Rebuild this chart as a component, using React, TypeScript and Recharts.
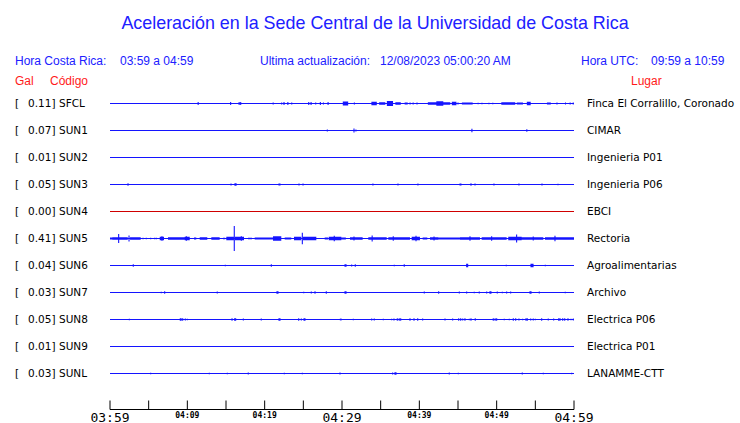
import { Area, ComposedChart, Line, XAxis, YAxis } from 'recharts';

// estaciones, de arriba hacia abajo
const CODES = ['SFCL', 'SUN1', 'SUN2', 'SUN3', 'SUN4', 'SUN5', 'SUN6', 'SUN7', 'SUN8', 'SUN9', 'SUNL'];
const GAL = ['0.11', '0.07', '0.01', '0.05', '0.00', '0.41', '0.04', '0.03', '0.05', '0.01', '0.03'];
const PLACES = [
  'Finca El Corralillo, Coronado',
  'CIMAR',
  'Ingenieria P01',
  'Ingenieria P06',
  'EBCI',
  'Rectoria',
  'Agroalimentarias',
  'Archivo',
  'Electrica P06',
  'Electrica P01',
  'LANAMME-CTT',
];
const OFFLINE = ['SUN4'];

// minutos desde 03:59
const TICK_MIN = [0, 5, 10, 15, 20, 25, 30, 35, 40, 45, 50, 55, 60];
const TICK_TEXT = ['03:59', '', '04:09', '', '04:19', '', '04:29', '', '04:39', '', '04:49', '', '04:59'];

// [minuto, amplitud] ; amplitud en cuentas (27 cuentas = separacion entre trazas)
const SFCL_SPIKES: [number, number][] = [
  [11.4, 1.5], [15.6, 1.5], [16.7, 1.5], [16.9, 1.5], [21.1, 1], [22.2, 1], [22.5, 1.5], [23.0, 1.5],
  [23.5, 1], [25.7, 1.5], [26.0, 1.5], [26.6, 1], [27.2, 1.5], [27.6, 1], [28.2, 1.5], [31.6, 1],
  [38.8, 1], [39.2, 1], [39.7, 1], [45.0, 1], [47.6, 0.7], [48.1, 0.7], [49.0, 0.7], [49.5, 0.7],
  [57.8, 1], [58.9, 1], [59.5, 1], [59.9, 1],
];
// [inicio, fin, amplitud]
const SFCL_BURSTS: [number, number, number][] = [
  [30.1, 30.8, 2], [33.8, 34.5, 1.7], [34.8, 35.6, 1.3], [35.8, 36.6, 2.5], [36.9, 37.6, 1.3],
  [38.1, 38.5, 1], [41.1, 42.2, 1.3], [42.2, 43.1, 2.3], [43.1, 44.0, 1.3], [44.2, 44.8, 1.7],
  [45.5, 46.9, 1], [50.6, 52.4, 1.3], [52.6, 53.4, 1], [53.9, 54.4, 1.7], [56.5, 57.0, 1],
];

const SUN1_SPIKES: [number, number][] = [[28.1, 1], [31.55, 2], [31.8, 1], [46.8, 1.7], [53.9, 1.3]];

const SUN3_SPIKES: [number, number][] = [
  [2.33, 1.3], [15.65, 1], [16.16, 1.3], [16.3, 1.3], [21.85, 1], [21.98, 1], [24.44, 1], [24.96, 1],
  [34.0, 1], [37.24, 1], [39.82, 1], [45.26, 1], [45.38, 1], [46.68, 1.3], [47.2, 1], [49.65, 1],
  [52.88, 1], [55.86, 1], [57.93, 0.7],
];

const SUN5_SPIKES: [number, number][] = [
  [1.12, 4.5], [2.46, 3], [4.27, 0.7], [4.69, 0.7], [5.26, 0.7], [5.78, 0.7], [5.99, 0.7], [6.72, 2.3],
  [9.87, 2.3], [16.07, 12.5], [16.98, 2.3], [24.87, 5.7], [29.0, 2.7], [31.55, 2], [33.9, 3],
  [36.63, 2.3], [39.57, 2.7], [41.9, 2], [46.55, 2.3], [49.35, 2.3], [52.58, 4], [54.73, 2], [57.54, 2.7],
];
const SUN5_BURSTS: [number, number, number][] = [
  [0.0, 0.3, 1], [0.3, 2.3, 1.3], [2.59, 3.97, 1.3], [6.43, 6.98, 1.7], [7.5, 9.66, 1.3],
  [9.66, 10.31, 1.7], [10.86, 11.16, 1], [11.6, 12.58, 1.3], [13.1, 14.18, 1.3], [14.61, 14.9, 0.7],
  [15.04, 16.03, 1.7], [16.13, 17.33, 1.7], [17.84, 18.36, 0.7], [18.71, 21.08, 1], [21.08, 22.15, 2.3],
  [22.59, 23.44, 1], [23.79, 24.74, 1.7], [24.96, 26.68, 1.7], [27.76, 28.19, 1], [28.28, 29.91, 1.7],
  [29.91, 30.5, 1], [31.03, 32.67, 1.3], [33.4, 35.78, 1.3], [35.99, 38.79, 1.3], [39.01, 40.08, 1.7],
  [40.43, 41.03, 1], [41.38, 42.45, 1.3], [42.45, 45.26, 1], [45.26, 47.84, 1.3], [48.06, 51.29, 1.3],
  [51.5, 53.23, 1.7], [53.23, 56.03, 1.3], [56.25, 60, 1.3],
];

const SUN6_SPIKES: [number, number][] = [
  [3.01, 1.3], [14.91, 0.7], [20.86, 1.3], [30.39, 1.3], [30.52, 1.3], [31.25, 1], [31.72, 1.3],
  [36.76, 0.7], [38.05, 1.3], [46.12, 1.7], [46.25, 1.7], [51.24, 0.7], [54.44, 1.7], [54.57, 1.7],
  [54.7, 1.7], [56.29, 0.7],
];

const SUN7_SPIKES: [number, number][] = [
  [6.63, 0.7], [7.07, 1.3], [13.87, 1], [21.59, 1.3], [21.72, 1.3], [25.05, 0.7], [26.03, 1],
  [26.51, 1.3], [27.97, 1.3], [30.39, 1.3], [30.52, 1.3], [40.64, 1], [42.5, 1.3], [45.17, 1],
  [46.12, 1], [47.1, 0.7], [47.75, 1], [48.71, 1], [49.13, 1.3], [49.26, 1.3], [50.08, 1],
  [50.73, 0.7], [51.29, 1], [51.81, 1], [54.31, 1.3], [54.44, 1.3], [55.51, 1], [58.87, 0.7],
];

const SUN8_SPIKES: [number, number][] = [
  [2.5, 0.7], [9.09, 1.3], [9.2, 1.3], [9.4, 1.3], [9.74, 1], [10.0, 0.7], [15.78, 1.3], [16.12, 1.3],
  [16.25, 1.3], [17.24, 1], [19.56, 1], [21.85, 1.3], [21.98, 1.3], [24.4, 1.3], [24.74, 1],
  [25.09, 1.3], [25.21, 1.3], [29.78, 0.7], [29.87, 1], [31.46, 0.7], [33.84, 1], [34.17, 1],
  [35.34, 0.7], [36.42, 0.7], [36.72, 1], [37.15, 1.3], [37.4, 1.3], [37.59, 1.3], [38.79, 1.3],
  [39.31, 1.3], [39.79, 1.3], [40.43, 1], [43.32, 1], [44.31, 1], [45.09, 1.3], [45.35, 1.3],
  [45.61, 1], [45.9, 1.3], [46.46, 0.7], [46.68, 1.3], [47.23, 1.3], [49.56, 1.3], [49.8, 1.3],
  [50.0, 1.3], [50.98, 0.7], [51.63, 0.7], [52.15, 1.3], [52.46, 1.3], [52.88, 1], [53.36, 0.7],
  [53.79, 1.3], [53.96, 1.3], [54.4, 1], [54.73, 1], [55.0, 0.7], [55.82, 1.3], [56.67, 1],
  [57.37, 1], [58.02, 1.3], [58.19, 1.3], [58.54, 1.3], [58.8, 1.3], [59.22, 1.3], [59.61, 0.7],
  [59.91, 1],
];

const SUNL_SPIKES: [number, number][] = [
  [5.26, 0.7], [12.84, 0.7], [15.17, 0.7], [17.88, 1], [22.54, 0.7], [24.87, 0.7], [29.74, 1],
  [36.55, 1], [36.85, 1.3], [36.98, 1.3], [43.87, 1], [45.04, 0.7], [53.31, 1], [56.03, 0.7], [59.7, 0.7],
];

const SPIKES: Record<string, [number, number][]> = {
  SFCL: SFCL_SPIKES,
  SUN1: SUN1_SPIKES,
  SUN3: SUN3_SPIKES,
  SUN5: SUN5_SPIKES,
  SUN6: SUN6_SPIKES,
  SUN7: SUN7_SPIKES,
  SUN8: SUN8_SPIKES,
  SUNL: SUNL_SPIKES,
};
const BURSTS: Record<string, [number, number, number][]> = {
  SFCL: SFCL_BURSTS,
  SUN5: SUN5_BURSTS,
};

const ROW_COUNTS = 27;
const BLUE = '#1414ff';
const TITLE_BLUE = '#2020ff';
const RED = '#ff1a1a';
const FONT = '"DejaVu Sans", sans-serif';
const ARIAL = '"Liberation Sans", Arial, sans-serif';

const baseOf = (i: number) => CODES.length - i;

function traceData(i: number) {
  const b = baseOf(i);
  const pts: { t: number; y: number }[] = [{ t: 0, y: b }];
  for (const [t, a] of SPIKES[CODES[i]] ?? []) {
    const d = a / ROW_COUNTS;
    pts.push({ t, y: b }, { t, y: b + d }, { t, y: b - d }, { t, y: b });
  }
  pts.push({ t: 60, y: b });
  return pts;
}

function burstData(i: number) {
  const b = baseOf(i);
  const pts: { t: number; r: [number, number] | null }[] = [];
  for (const [t0, t1, a] of BURSTS[CODES[i]] ?? []) {
    const d = a / ROW_COUNTS;
    pts.push({ t: t0, r: [b - d, b + d] }, { t: t1, r: [b - d, b + d] }, { t: t1 + 0.001, r: null });
  }
  return pts;
}

function TimeTick({ x, y, payload }: any) {
  const i = TICK_MIN.indexOf(payload.value);
  const label = TICK_TEXT[i];
  const big = i % 6 === 0;
  return (
    <g>
      <line x1={x} x2={x} y1={y - 9} y2={y} stroke="#000" strokeWidth={1} />
      {label && (
        <text
          x={x}
          y={big ? y + 12 : y + 8.5}
          textAnchor="middle"
          fontFamily={'"DejaVu Sans Mono", monospace'}
          fontSize={big ? 13 : 8}
          fontWeight={big ? 'normal' : 'bold'}
          fill="#000"
        >
          {label}
        </text>
      )}
    </g>
  );
}

function StationTick({ x, y, payload }: any) {
  const i = CODES.length - payload.value;
  if (i < 0 || i >= CODES.length) return null;
  return (
    <g fontFamily={FONT} fontSize={10.5} fill="#000">
      <text x={x - 95} y={y + 3.5}>[</text>
      <text x={x - 82} y={y + 3.5}>{GAL[i]}]</text>
      <text x={x - 51} y={y + 3.5}>{CODES[i]}</text>
      <text x={x + 477} y={y + 3.5}>{PLACES[i]}</text>
    </g>
  );
}

export default function App() {
  return (
    <div style={{ position: 'fixed', left: 0, top: 0, width: 740, height: 423, background: '#fff' }}>
      <svg width={740} height={423} style={{ position: 'absolute', left: 0, top: 0 }}>
        <text x={375} y={29} textAnchor="middle" fontFamily={ARIAL} fontSize={17.9} fill={TITLE_BLUE}>
          Aceleración en la Sede Central de la Universidad de Costa Rica
        </text>
        <g fontFamily={ARIAL} fontSize={12} fill={TITLE_BLUE}>
          <text x={15} y={65}>Hora Costa Rica:</text>
          <text x={120} y={65}>03:59 a 04:59</text>
          <text x={260} y={65}>Ultima actualización:</text>
          <text x={380} y={65}>12/08/2023 05:00:20 AM</text>
          <text x={581} y={65}>Hora UTC:</text>
          <text x={651} y={65}>09:59 a 10:59</text>
        </g>
        <g fontFamily={ARIAL} fontSize={12} fill={RED}>
          <text x={15} y={85}>Gal</text>
          <text x={50} y={85}>Código</text>
          <text x={631} y={85}>Lugar</text>
        </g>
      </svg>
      <div style={{ position: 'absolute', left: 0, top: 0 }}>
        <ComposedChart width={740} height={423} margin={{ top: 90, right: 166, bottom: 0, left: 0 }}>
          <XAxis
            dataKey="t"
            type="number"
            domain={[0, 60]}
            ticks={TICK_MIN}
            allowDataOverflow
            height={13.5}
            tickSize={0}
            tickMargin={0}
            tickLine={false}
            axisLine={{ stroke: '#000', strokeWidth: 1 }}
            tick={<TimeTick />}
            interval={0}
          />
          <YAxis
            type="number"
            domain={[-1 / 3, 11.5]}
            ticks={[1, 2, 3, 4, 5, 6, 7, 8, 9, 10, 11]}
            allowDataOverflow
            width={110}
            tickSize={0}
            tickMargin={0}
            tickLine={false}
            axisLine={false}
            tick={<StationTick />}
            interval={0}
          />
          {CODES.map((c, i) =>
            BURSTS[c] ? (
              <Area
                key={`b-${c}`}
                data={burstData(i)}
                dataKey="r"
                type="linear"
                stroke="none"
                fill={BLUE}
                fillOpacity={1}
                connectNulls={false}
                dot={false}
                activeDot={false}
                isAnimationActive={false}
              />
            ) : null
          )}
          {CODES.map((c, i) => (
            <Line
              key={c}
              data={traceData(i)}
              dataKey="y"
              type="linear"
              stroke={OFFLINE.includes(c) ? '#d00000' : BLUE}
              strokeWidth={1.1}
              dot={false}
              activeDot={false}
              isAnimationActive={false}
            />
          ))}
        </ComposedChart>
      </div>
    </div>
  );
}
